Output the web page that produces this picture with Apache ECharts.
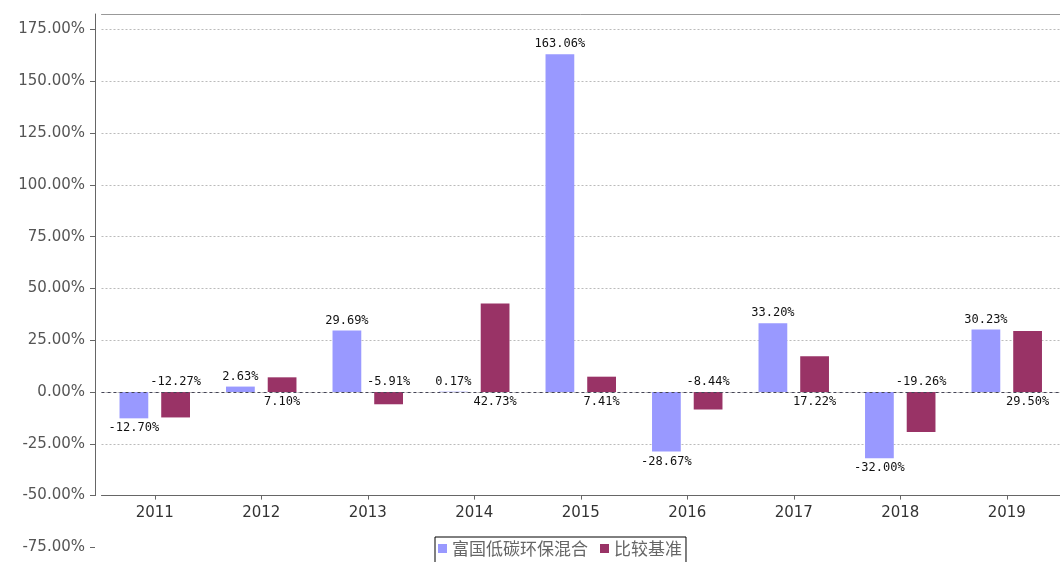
<!DOCTYPE html>
<html><head><meta charset="utf-8">
<script src="https://cdn.jsdelivr.net/npm/echarts@6/dist/echarts.min.js"></script>
<style>html,body{margin:0;padding:0;background:#fff;}#c{width:1060px;height:562px;}</style>
</head><body><div id="c"></div>
<script>
const categories = ['2011','2012','2013','2014','2015','2016','2017','2018','2019'];
const fundName = '富国低碳环保混合';
const benchName = '比较基准';
const fundValues = [-12.70, 2.63, 29.69, 0.17, 163.06, -28.67, 33.20, -32.00, 30.23];
const benchValues = [-12.27, 7.10, -5.91, 42.73, 7.41, -8.44, 17.22, -19.26, 29.50];

const chart = echarts.init(document.getElementById('c'));
const labelFont = {fontFamily:'DejaVu Sans Mono', fontSize:12, color:'#111', formatter: p => p.value.toFixed(2) + '%'};
const fundData = fundValues.map(v => ({value:v, label:{position: v >= 0 ? 'top' : 'bottom'}}));
const benchData = benchValues.map(v => ({value:v, label:{position: v >= 0 ? 'bottom' : 'top'}}));
const axisFont = {fontFamily:'DejaVu Sans', fontSize:15, color:'#555'};

chart.setOption({
  animation:false,
  grid:[
    {left:101.5, right:-1, top:14, bottom:66.4, containLabel:false},
    {left:101.5, right:-1, top:495.6, height:51.8, containLabel:false}
  ],
  legend:{
    data:[fundName, benchName], top:537, left:435,
    icon:'rect', itemWidth:9, itemHeight:9, itemGap:12,
    borderColor:'#000', borderWidth:1, padding:[3,4,12,3],
    textStyle:{fontFamily:'Noto Sans CJK SC', fontSize:17, color:'#666'}
  },
  xAxis:[
    {type:'category', gridIndex:0, data:categories, position:'bottom',
     axisLine:{show:true, onZero:false, lineStyle:{color:'#666'}},
     axisTick:{show:true, alignWithLabel:true, length:4, lineStyle:{color:'#666'}},
     axisLabel:{...axisFont, color:'#333', margin:10},
     splitLine:{show:false}},
    {type:'category', gridIndex:1, data:categories, show:false},
    {type:'category', gridIndex:0, data:categories, position:'top',
     axisLine:{show:true, onZero:false, lineStyle:{color:'#999'}},
     axisTick:{show:false}, axisLabel:{show:false}, splitLine:{show:false}}
  ],
  yAxis:[
    {type:'value', gridIndex:0, min:-50, max:182.5, interval:25, offset:6.5,
     axisLine:{show:true, lineStyle:{color:'#666'}},
     axisTick:{show:true, length:5, lineStyle:{color:'#666'}},
     axisLabel:{...axisFont, margin:10, showMaxLabel:false, formatter: v => v.toFixed(2) + '%'},
     splitLine:{show:true, showMaxLine:false, lineStyle:{color:'#bbb', type:[2,2]}}},
    {type:'value', gridIndex:1, min:-75, max:-50, interval:25, offset:6.5,
     axisLine:{show:false},
     axisTick:{show:true, length:5, lineStyle:{color:'#666'}},
     axisLabel:{...axisFont, margin:10, showMaxLabel:false, formatter: v => v.toFixed(2) + '%'},
     splitLine:{show:false}}
  ],
  series:[
    {name:fundName, type:'bar', xAxisIndex:0, yAxisIndex:0, data:fundData,
     barWidth:'27%', barGap:'45%',
     itemStyle:{color:'#9999FF'},
     label:{show:true, distance:4, ...labelFont}},
    {name:benchName, type:'bar', xAxisIndex:0, yAxisIndex:0, data:benchData,
     barWidth:'27%', barGap:'45%',
     itemStyle:{color:'#993366'},
     label:{show:true, distance:4, ...labelFont},
     markLine:{silent:true, symbol:'none', label:{show:false},
       lineStyle:{color:'#445', type:[3,3], width:1},
       data:[{yAxis:0}]}}
  ]
});
</script></body></html>
